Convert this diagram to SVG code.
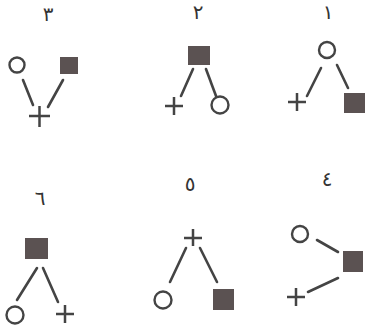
<svg xmlns="http://www.w3.org/2000/svg" width="365" height="327" viewBox="0 0 365 327">
<style>
.lbl{font-family:"DejaVu Sans","Noto Sans",sans-serif;font-size:20px;fill:#333;text-anchor:middle}
.c{fill:none;stroke:#444;stroke-width:2.4}
.s{fill:#5b5252}
.p{stroke:#444;stroke-width:2.5;fill:none}
.e{stroke:#444;stroke-width:2.6;stroke-linecap:round}
</style>
<rect width="365" height="327" fill="#fff"/>
<g id="labels">
<text class="lbl" x="48" y="21">٣</text>
<text class="lbl" x="198" y="19">٢</text>
<text class="lbl" x="328" y="19">١</text>
<text class="lbl" x="40" y="205">٦</text>
<text class="lbl" x="190" y="191">٥</text>
<text class="lbl" x="327" y="186">٤</text>
</g>
<g id="connectors">
<line class="e" x1="23" y1="80" x2="33" y2="105"/>
<line class="e" x1="63" y1="80" x2="48" y2="107"/>
<line class="e" x1="193" y1="69" x2="181" y2="96"/>
<line class="e" x1="206" y1="69" x2="216" y2="96"/>
<line class="e" x1="321" y1="68" x2="307" y2="96"/>
<line class="e" x1="337" y1="65" x2="348" y2="88"/>
<line class="e" x1="37" y1="268" x2="17" y2="300"/>
<line class="e" x1="43" y1="268" x2="58" y2="302"/>
<line class="e" x1="186" y1="248" x2="170" y2="282"/>
<line class="e" x1="200" y1="248" x2="217" y2="282"/>
<line class="e" x1="317" y1="240" x2="338" y2="252"/>
<line class="e" x1="338" y1="278" x2="308" y2="292"/>
</g>
<g id="n3-circle"><circle class="c" cx="17" cy="65" r="7.5"/></g>
<g id="n3-square"><rect class="s" x="60" y="57" width="18" height="17"/></g>
<g id="n3-plus"><path class="p" d="M29 116H50M39.5 106V127"/></g>
<g id="n2-square"><rect class="s" x="188" y="46" width="22" height="19"/></g>
<g id="n2-plus"><path class="p" d="M165 106H183M174 97V115"/></g>
<g id="n2-circle"><circle class="c" cx="220" cy="105" r="8.5"/></g>
<g id="n1-circle"><circle class="c" cx="327" cy="50" r="8"/></g>
<g id="n1-plus"><path class="p" d="M288 102H306M297 93V111"/></g>
<g id="n1-square"><rect class="s" x="344" y="93" width="21" height="20"/></g>
<g id="n6-square"><rect class="s" x="25" y="238" width="23" height="21"/></g>
<g id="n6-circle"><circle class="c" cx="15" cy="315" r="8.5"/></g>
<g id="n6-plus"><path class="p" d="M56 314H74M65 305V323"/></g>
<g id="n5-plus"><path class="p" d="M184 238H202M193 229V246"/></g>
<g id="n5-circle"><circle class="c" cx="163" cy="300" r="8.5"/></g>
<g id="n5-square"><rect class="s" x="213" y="289" width="21" height="21"/></g>
<g id="n4-circle"><circle class="c" cx="300" cy="234" r="8"/></g>
<g id="n4-square"><rect class="s" x="343" y="251" width="20" height="21"/></g>
<g id="n4-plus"><path class="p" d="M287 297H305M296 288V306"/></g>
</svg>
